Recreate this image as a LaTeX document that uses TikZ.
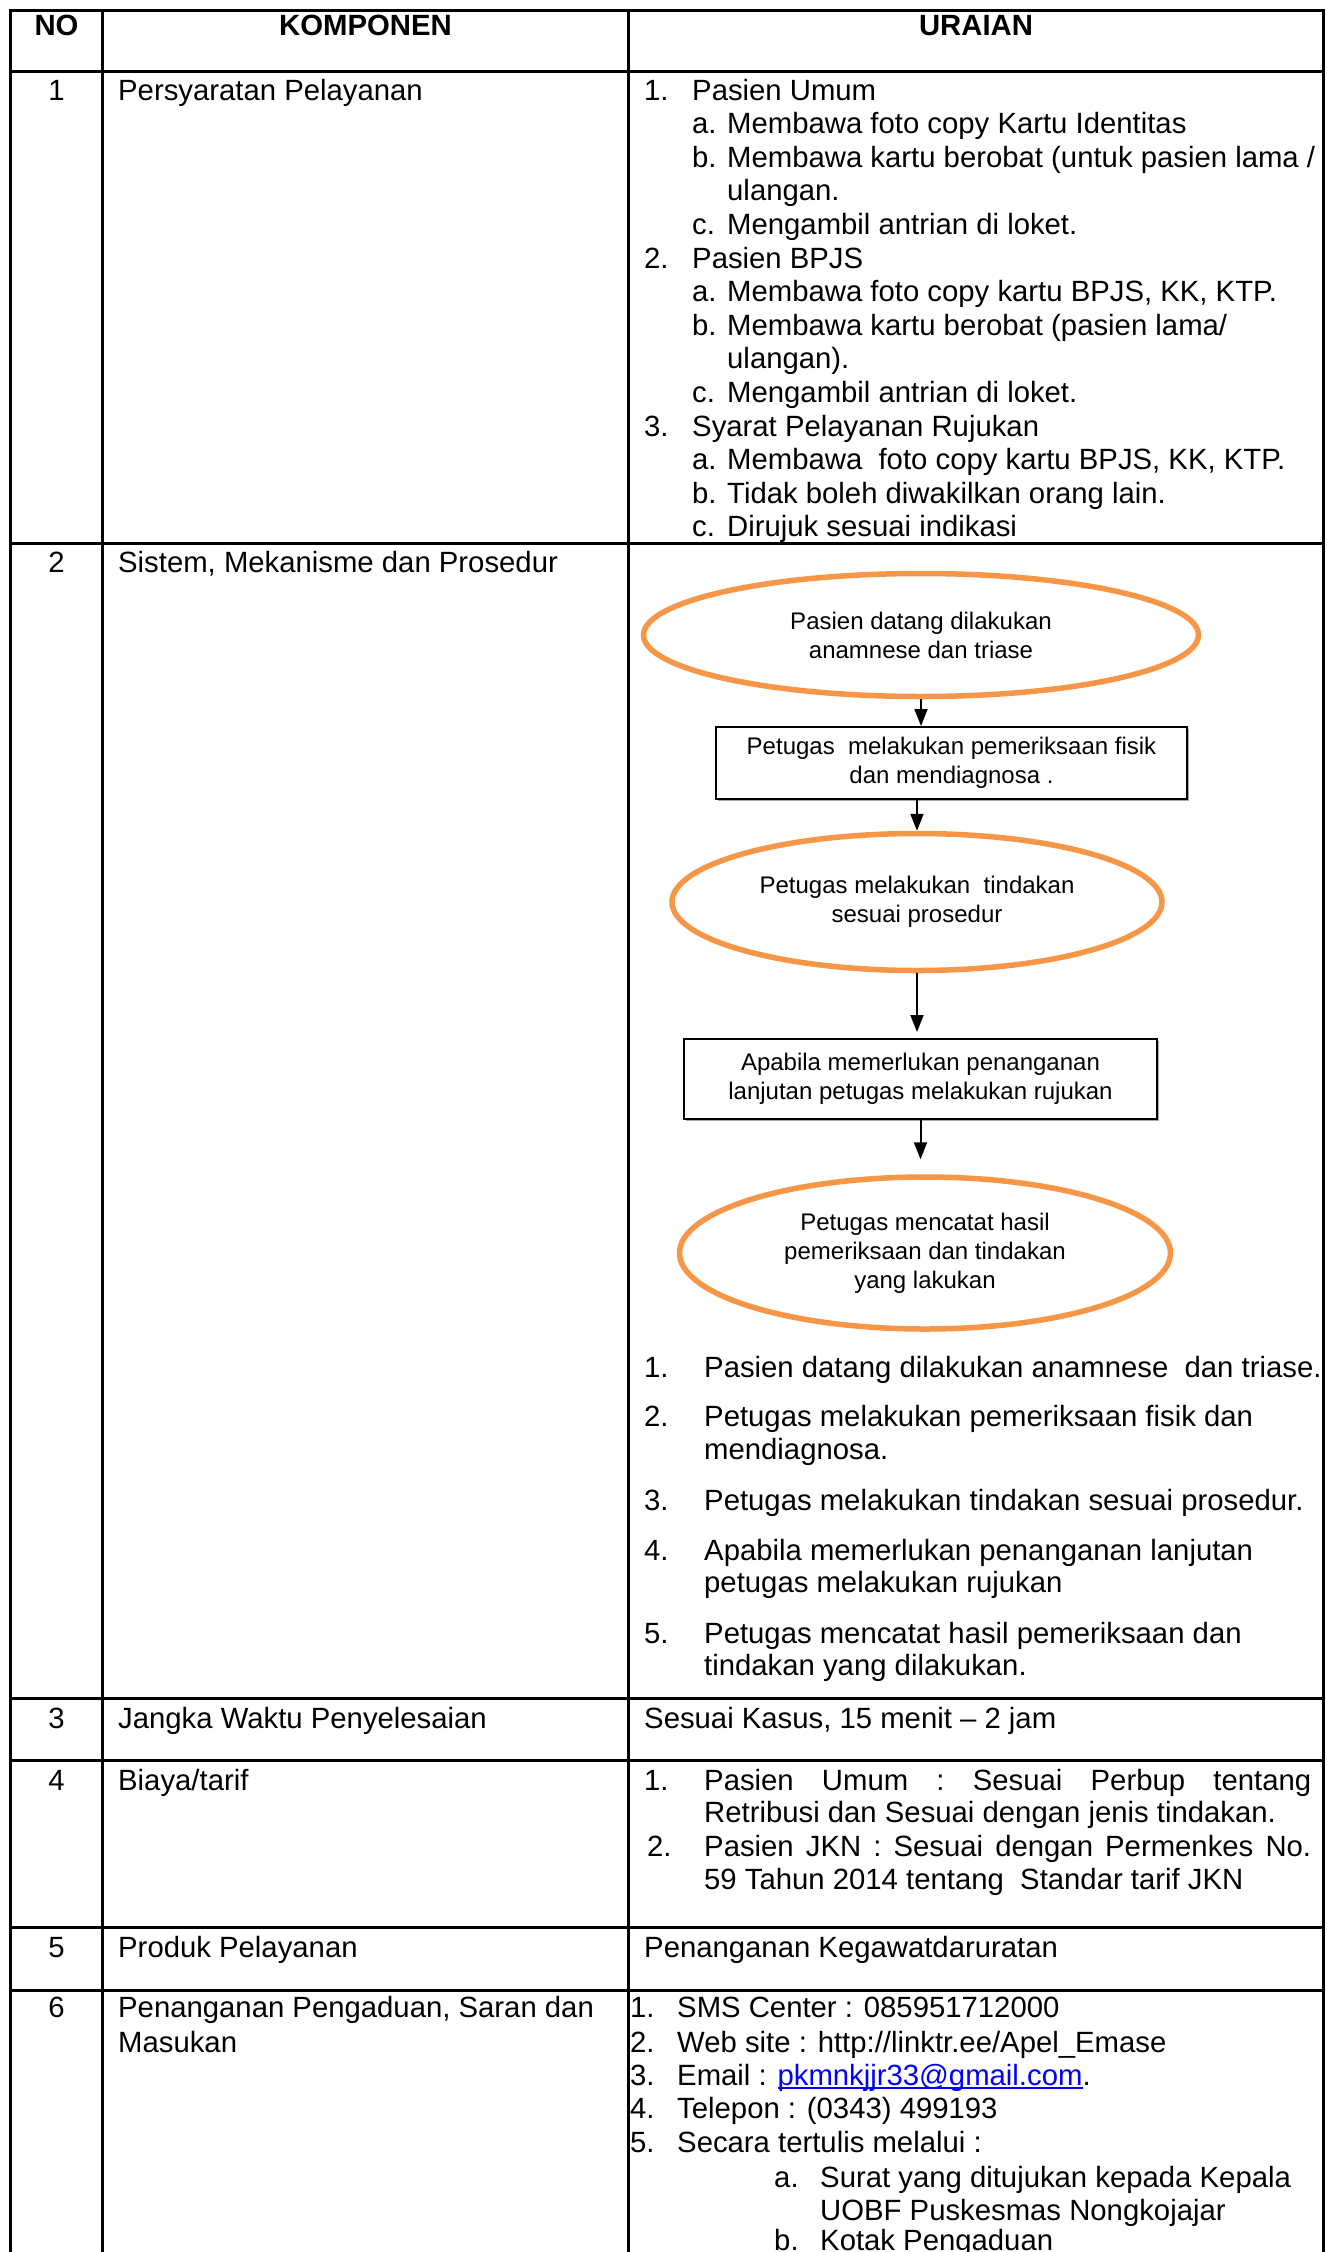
\documentclass[tikz,border=0pt]{standalone}
\usepackage{fontspec}
\setmainfont{Liberation Sans}
\usetikzlibrary{shapes.geometric,arrows.meta,shadows}
\definecolor{orng}{HTML}{F79646}
\definecolor{lnk}{HTML}{0000FF}
\newcommand\myul[1]{\setbox0\hbox{#1}\rlap{\raisebox{-3.5pt}{\rule{\wd0}{1.8pt}}}\box0}
\begin{document}
\begin{tikzpicture}[x=1pt,y=-1pt,
  tx/.style={anchor=base west,inner sep=0pt,font=\fontsize{29.3}{33.6}\selectfont},
  nm/.style={anchor=base,inner sep=0pt,font=\fontsize{29.3}{33.6}\selectfont},
  hd/.style={anchor=base,inner sep=0pt,font=\fontsize{29.3}{33.6}\selectfont\bfseries},
  grid/.style={line width=3pt},
  ell/.style={ellipse,draw=orng,line width=5.5pt,inner sep=0pt,align=center,font=\fontsize{24}{29}\selectfont},
  fbox/.style={rectangle,draw=black,line width=2pt,fill=white,inner sep=0pt,align=center,font=\fontsize{24}{29}\selectfont,drop shadow={shadow xshift=2pt,shadow yshift=-2pt,fill=gray!70,opacity=1}},
  arr/.style={line width=2pt,-{Triangle[length=17pt,width=13pt]}}
]
\fill[white] (0,0) rectangle (1326,2252);
\useasboundingbox (0,0) rectangle (1326,2252);

% grid
\draw[grid] (9,10.5) -- (1325,10.5);
\draw[grid] (9,71.5) -- (1325,71.5);
\draw[grid] (9,543) -- (1325,543);
\draw[grid] (9,1698.5) -- (1325,1698.5);
\draw[grid] (9,1760) -- (1325,1760);
\draw[grid] (9,1927) -- (1325,1927);
\draw[grid] (9,1990) -- (1325,1990);
\draw[grid] (10.5,9) -- (10.5,2260);
\draw[grid] (102.5,9) -- (102.5,2260);
\draw[grid] (628,9) -- (628,2260);
\draw[grid] (1323.5,9) -- (1323.5,2260);

% header
\node[hd] (hno) at (56.5,35.5) {NO};
\node[hd] (hkom) at (365.5,35.5) {KOMPONEN};
\node[hd] (hur) at (976,35.5) {URAIAN};

% row 1
\node[nm] (r1n) at (56.5,100) {1};
\node[tx] (r1k) at (118,100) {Persyaratan Pelayanan};
\node[tx] (r1a) at (644,100) {1.};
\node[tx] (r1b) at (692,100) {Pasien Umum};
\node[tx] (r1c) at (692,133.6) {a.};
\node[tx] (r1d) at (727,133.6) {Membawa foto copy Kartu Identitas};
\node[tx] (r1e) at (692,167.2) {b.};
\node[tx] (r1f) at (727,167.2) {Membawa kartu berobat (untuk pasien lama /};
\node[tx] (r1g) at (727,200.8) {ulangan.};
\node[tx] (r1h) at (692,234.4) {c.};
\node[tx] (r1i) at (727,234.4) {Mengambil antrian di loket.};
\node[tx] (r1j) at (644,268) {2.};
\node[tx] (r1k2) at (692,268) {Pasien BPJS};
\node[tx] (r1l) at (692,301.6) {a.};
\node[tx] (r1m) at (727,301.6) {Membawa foto copy kartu BPJS, KK, KTP.};
\node[tx] (r1n2) at (692,335.2) {b.};
\node[tx] (r1o) at (727,335.2) {Membawa kartu berobat (pasien lama/};
\node[tx] (r1p) at (727,368.8) {ulangan).};
\node[tx] (r1q) at (692,402.4) {c.};
\node[tx] (r1r) at (727,402.4) {Mengambil antrian di loket.};
\node[tx] (r1s) at (644,436) {3.};
\node[tx] (r1t) at (692,436) {Syarat Pelayanan Rujukan};
\node[tx] (r1u) at (692,469.6) {a.};
\node[tx] (r1v) at (727,469.6) {Membawa\ \ foto copy kartu BPJS, KK, KTP.};
\node[tx] (r1w) at (692,503.2) {b.};
\node[tx] (r1x) at (727,503.2) {Tidak boleh diwakilkan orang lain.};
\node[tx] (r1y) at (692,536.8) {c.};
\node[tx] (r1z) at (727,536.8) {Dirujuk sesuai indikasi};

% row 2
\node[nm] (r2n) at (56.5,572) {2};
\node[tx] (r2k) at (118,572) {Sistem, Mekanisme dan Prosedur};

\node[ell,minimum width=555pt,minimum height=123pt] (e1) at (921,635) {Pasien datang dilakukan\\anamnese dan triase};
\node[fbox,minimum width=471pt,minimum height=72pt] (b1) at (951.5,763) {Petugas\ \ melakukan pemeriksaan fisik\\dan mendiagnosa .};
\node[ell,minimum width=490pt,minimum height=137pt] (e2) at (917,902) {Petugas melakukan\ \ tindakan\\sesuai prosedur};
\node[fbox,minimum width=473pt,minimum height=80pt] (b2) at (920.5,1079) {Apabila memerlukan penanganan\\lanjutan petugas melakukan rujukan};
\node[ell,minimum width=491pt,minimum height=152pt] (e3) at (925,1253) {Petugas mencatat hasil\\pemeriksaan dan tindakan\\yang lakukan};

\draw[arr] (e1.south) -- (e1.south |- b1.north);
\draw[arr] (e2.north |- b1.south) -- (e2.north);
\draw[arr,shorten >=6pt] (e2.south) -- (e2.south |- b2.north);
\draw[arr,shorten >=15pt] (b2.south) -- (b2.south |- e3.north);

\node[tx] (l1n) at (644,1377) {1.};
\node[tx] (l1t) at (704,1377) {Pasien datang dilakukan anamnese\ \ dan triase.};
\node[tx] (l2n) at (644,1426) {2.};
\node[tx] (l2t) at (704,1426) {Petugas melakukan pemeriksaan fisik dan};
\node[tx] (l2u) at (704,1459) {mendiagnosa.};
\node[tx] (l3n) at (644,1510) {3.};
\node[tx] (l3t) at (704,1510) {Petugas melakukan tindakan sesuai prosedur.};
\node[tx] (l4n) at (644,1560) {4.};
\node[tx] (l4t) at (704,1560) {Apabila memerlukan penanganan lanjutan};
\node[tx] (l4u) at (704,1592) {petugas melakukan rujukan};
\node[tx] (l5n) at (644,1643) {5.};
\node[tx] (l5t) at (704,1643) {Petugas mencatat hasil pemeriksaan dan};
\node[tx] (l5u) at (704,1675) {tindakan yang dilakukan.};

% row 3
\node[nm] (r3n) at (56.5,1728) {3};
\node[tx] (r3k) at (118,1728) {Jangka Waktu Penyelesaian};
\node[tx] (r3u) at (644,1728) {Sesuai Kasus, 15 menit – 2 jam};

% row 4
\node[nm] (r4n) at (56.5,1790) {4};
\node[tx] (r4k) at (118,1790) {Biaya/tarif};
\node[tx] (r4a) at (644,1790) {1.};
\node[tx] (r4b) at (704,1790) {\hbox to 607pt{Pasien\hfill Umum\hfill :\hfill Sesuai\hfill Perbup\hfill tentang}};
\node[tx] (r4c) at (704,1822) {Retribusi dan Sesuai dengan jenis tindakan.};
\node[tx] (r4d) at (647,1856) {2.};
\node[tx] (r4e) at (704,1856) {\hbox to 607pt{Pasien\hfill JKN\hfill :\hfill Sesuai\hfill dengan\hfill Permenkes\hfill No.}};
\node[tx] (r4f) at (704,1889) {59 Tahun 2014 tentang\ \ Standar tarif JKN};

% row 5
\node[nm] (r5n) at (56.5,1957) {5};
\node[tx] (r5k) at (118,1957) {Produk Pelayanan};
\node[tx] (r5u) at (644,1957) {Penanganan Kegawatdaruratan};

% row 6
\node[nm] (r6n) at (56.5,2017) {6};
\node[tx] (r6k) at (118,2017) {Penanganan Pengaduan, Saran dan};
\node[tx] (r6k2) at (118,2052) {Masukan};
\node[tx] (r6a) at (630,2017) {1.};
\node[tx] (r6b) at (677,2017) {SMS Center : 085951712000};
\node[tx] (r6c) at (630,2052) {2.};
\node[tx] (r6d) at (677,2052) {Web site : http://linktr.ee/Apel\_Emase};
\node[tx] (r6e) at (630,2085) {3.};
\node[tx] (r6f) at (677,2085) {Email : {\color{lnk}\myul{pkmnkjjr33@gmail.com}}.};
\node[tx] (r6g) at (630,2118) {4.};
\node[tx] (r6h) at (677,2118) {Telepon : (0343) 499193};
\node[tx] (r6i) at (630,2152) {5.};
\node[tx] (r6j) at (677,2152) {Secara tertulis melalui :};
\node[tx] (r6l) at (774,2187) {a.};
\node[tx] (r6m) at (820,2187) {Surat yang ditujukan kepada Kepala};
\node[tx] (r6o) at (820,2220) {UOBF Puskesmas Nongkojajar};
\node[tx] (r6p) at (774,2250) {b.};
\node[tx] (r6q) at (820,2250) {Kotak Pengaduan};
\end{tikzpicture}
\end{document}
